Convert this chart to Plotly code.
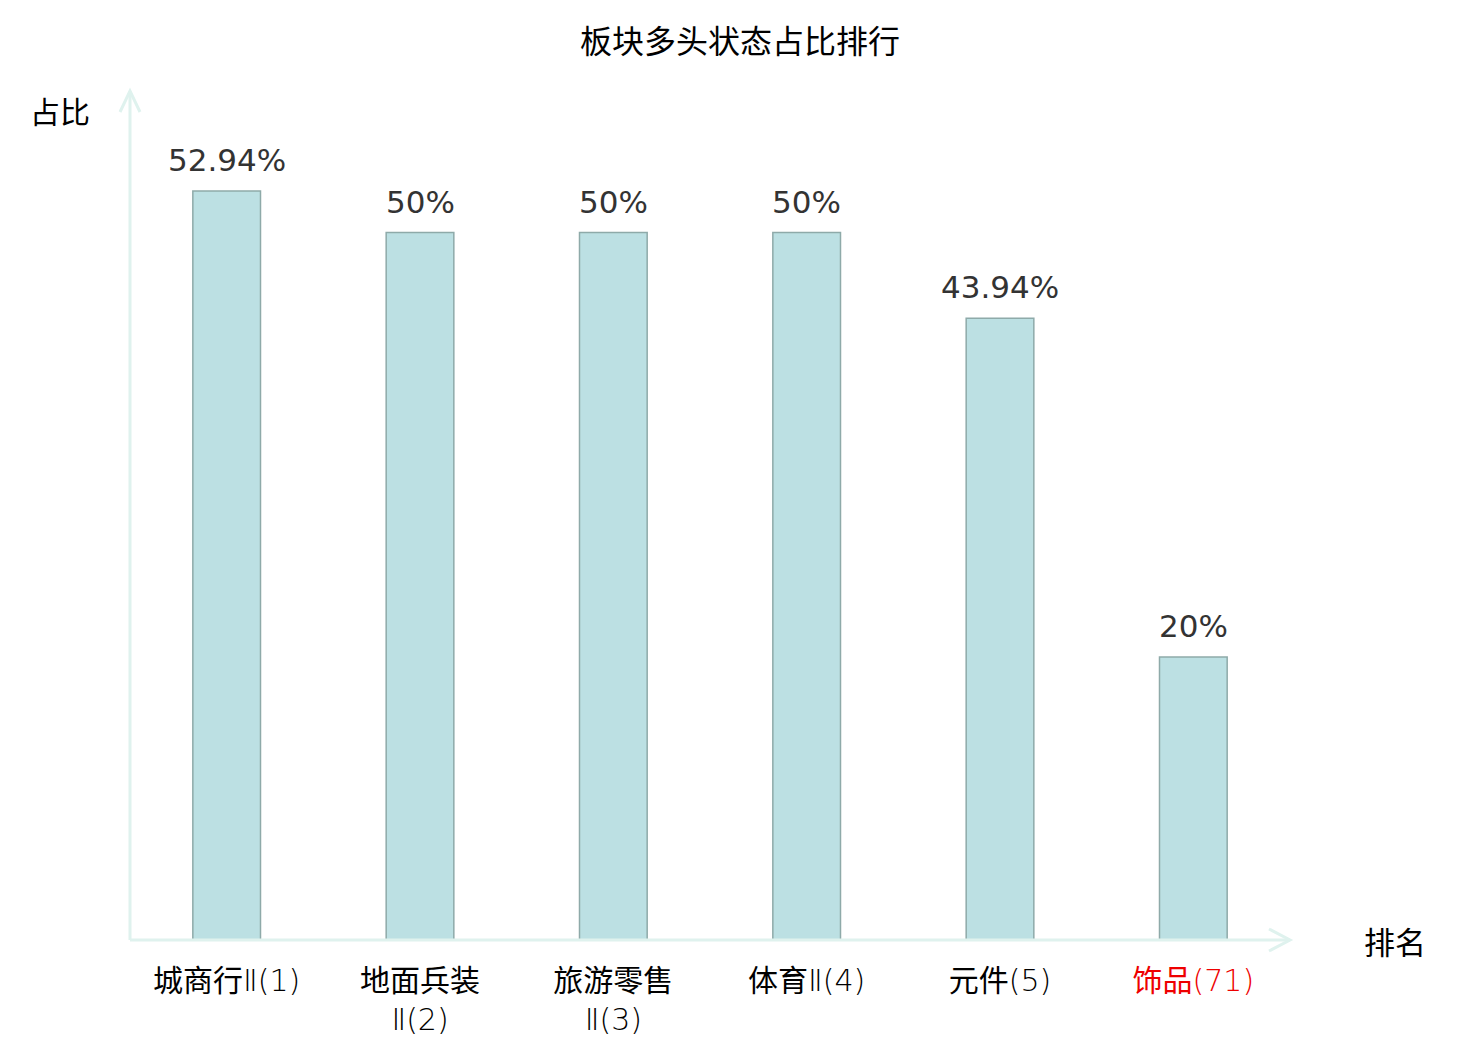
import plotly.graph_objects as go

# chart data
categories = ['城商行Ⅱ', '地面兵装Ⅱ', '旅游零售Ⅱ', '体育Ⅱ', '元件', '饰品']
ranks = [1, 2, 3, 4, 5, 71]
label_heads = ['城商行', '地面兵装<br>', '旅游零售<br>', '体育', '元件', '饰品']
label_tails = ['Ⅱ(1)', 'Ⅱ(2)', 'Ⅱ(3)', 'Ⅱ(4)', '(5)', '(71)']
label_colors = ['#000000', '#000000', '#000000', '#000000', '#000000', '#ee0000']
ratios = [52.94, 50, 50, 50, 43.94, 20]
ratio_labels = ['52.94%', '50%', '50%', '50%', '43.94%', '20%']

AXIS_COLOR = '#dff2ee'
CJK = 'Noto Sans CJK SC, Noto Sans, sans-serif'

# thin latin part like in the original rendering
tick_text = [
    f'<span style="color:{c}">{h}<span style="font-family:DejaVu Sans;font-weight:200">{t}</span></span>'
    for h, t, c in zip(label_heads, label_tails, label_colors)
]

fig = go.Figure()
fig.add_trace(go.Bar(
    x=categories,
    y=ratios,
    width=0.35,
    marker=dict(color='#bce0e3', line=dict(color='#8eaaa9', width=1.5)),
    hoverinfo='x+y',
))

# value labels above bars
for c, v, t in zip(categories, ratios, ratio_labels):
    fig.add_annotation(x=c, y=v, text=t, showarrow=False, yanchor='bottom', yshift=11,
                       font=dict(family='DejaVu Sans', size=31, color='#333333'))

# axis lines with open chevron arrows
fig.add_shape(type='line', xref='paper', yref='paper', x0=0, x1=1, y0=0, y1=0,
              line=dict(color=AXIS_COLOR, width=3))
fig.add_shape(type='line', xref='paper', yref='paper', x0=0, x1=0, y0=0, y1=1,
              line=dict(color=AXIS_COLOR, width=3))
fig.add_shape(type='path', xref='paper', yref='paper', xsizemode='pixel', ysizemode='pixel',
              xanchor=1, yanchor=0, path='M -21 11 L 0 0 L -21 -11',
              line=dict(color=AXIS_COLOR, width=3))
fig.add_shape(type='path', xref='paper', yref='paper', xsizemode='pixel', ysizemode='pixel',
              xanchor=0, yanchor=1, path='M -10 -21 L 0 0 L 10 -21',
              line=dict(color=AXIS_COLOR, width=3))

# axis names
fig.add_annotation(xref='paper', yref='paper', x=0, y=1, xanchor='right', yanchor='middle',
                   xshift=-38, yshift=-19, text='占比', showarrow=False,
                   font=dict(family=CJK, size=30, color='#000000'))
fig.add_annotation(xref='paper', yref='paper', x=1, y=0, xanchor='left', yanchor='middle',
                   xshift=72, yshift=0, text='排名', showarrow=False,
                   font=dict(family=CJK, size=31, color='#000000'))

# page body has an 8px margin, so the figure is a bit smaller and shifted
fig.update_layout(
    width=1472,
    height=1032,
    margin=dict(l=122, r=190, t=83, b=100),
    paper_bgcolor='white',
    plot_bgcolor='white',
    showlegend=False,
    title=dict(text='板块多头状态占比排行', x=0.4973, xanchor='center', y=0.967, yanchor='middle',
               font=dict(family=CJK, size=32, color='#000000')),
    xaxis=dict(
        tickmode='array',
        tickvals=categories,
        ticktext=tick_text,
        showline=False,
        showgrid=False,
        zeroline=False,
        ticks='',
        automargin=False,
        ticklabelstandoff=20,
        tickfont=dict(family=CJK, size=30, color='#000000'),
    ),
    yaxis=dict(
        range=[0, 60],
        showticklabels=False,
        showgrid=False,
        zeroline=False,
        showline=False,
        ticks='',
        automargin=False,
    ),
)

fig.write_html('out.html')
